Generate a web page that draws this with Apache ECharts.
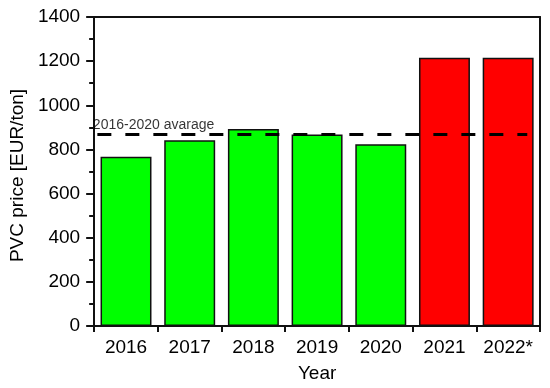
<!DOCTYPE html>
<html>
<head>
<meta charset="utf-8">
<script src="https://cdn.jsdelivr.net/npm/echarts@6/dist/echarts.min.js"></script>
<style>html,body{margin:0;padding:0;background:#fff}#c{width:550px;height:388px}</style>
</head>
<body>
<div id="c"></div>
<script>
const categories = ['2016', '2017', '2018', '2019', '2020', '2021', '2022*'];
const prices = [767, 842, 893, 868, 824, 1215, 1215];
const barColors = ['#00FF00', '#00FF00', '#00FF00', '#00FF00', '#00FF00', '#FF0000', '#FF0000'];
const averageValue = 868;
const averageSpan = [0.05, 6.8];
const averageLabel = '2016-2020 avarage';
const yTicks = { min: 0, max: 1400, interval: 200 };

const chart = echarts.init(document.getElementById('c'), null, { renderer: 'canvas' });
const font = 'Arial, "Liberation Sans", sans-serif';
chart.setOption({
  animation: false,
  backgroundColor: '#fff',
  grid: { left: 87, right: 10, top: 17, bottom: 61.5, containLabel: false },
  xAxis: [
    {
      type: 'category', data: categories, position: 'bottom',
      name: 'Year', nameLocation: 'middle', nameGap: 38,
      nameTextStyle: { fontFamily: font, fontSize: 19, color: '#000' },
      axisLine: { lineStyle: { color: '#111', width: 2 } },
      axisTick: { show: true, alignWithLabel: false, interval: 0, length: 6, inside: false, lineStyle: { color: '#111', width: 2 } },
      axisLabel: { fontFamily: font, fontSize: 19, color: '#000', margin: 12, interval: 0, hideOverlap: false },
      splitLine: { show: false }
    },
    {
      type: 'value', min: 0, max: 7, position: 'top',
      axisLine: { show: true, onZero: false, lineStyle: { color: '#111', width: 2 } },
      axisTick: { show: false }, axisLabel: { show: false }, splitLine: { show: false }
    }
  ],
  yAxis: [
    {
      type: 'value', min: yTicks.min, max: yTicks.max, interval: yTicks.interval,
      name: 'PVC price [EUR/ton]', nameLocation: 'middle', nameGap: 53,
      nameTextStyle: { fontFamily: font, fontSize: 19, color: '#000', padding: [0, 0, 0, -8] },
      axisLine: { show: true, lineStyle: { color: '#111', width: 2 } },
      axisTick: { show: true, length: 8, lineStyle: { color: '#111', width: 2 } },
      minorTick: { show: true, splitNumber: 2, length: 5, lineStyle: { color: '#111', width: 2 } },
      axisLabel: { fontFamily: font, fontSize: 19, color: '#000', margin: 14, formatter: v => String(v) },
      splitLine: { show: false }
    },
    {
      type: 'value', min: yTicks.min, max: yTicks.max, position: 'right',
      axisLine: { show: true, lineStyle: { color: '#111', width: 2 } },
      axisTick: { show: false }, axisLabel: { show: false }, splitLine: { show: false }
    }
  ],
  series: [
    {
      type: 'bar', xAxisIndex: 0, yAxisIndex: 0,
      barCategoryGap: '20%',
      data: prices.map((v, i) => ({ value: v, itemStyle: { color: barColors[i] } })),
      itemStyle: { borderColor: '#111', borderWidth: 1.5 }
    },
    {
      type: 'line', xAxisIndex: 1, yAxisIndex: 0, symbol: 'none', z: 5,
      lineStyle: { color: '#000', width: 3, type: [14, 14] },
      data: [[averageSpan[0], averageValue], [averageSpan[1], averageValue]]
    },
    {
      type: 'scatter', xAxisIndex: 1, yAxisIndex: 0, symbol: 'circle', symbolSize: 1, z: 6,
      itemStyle: { color: 'rgba(0,0,0,0)' },
      label: { show: true, position: 'right', distance: 0, offset: [-5, -9], formatter: averageLabel, fontFamily: font, fontSize: 14, color: '#000' },
      data: [[averageSpan[0], averageValue]]
    }
  ]
});
</script>
</body>
</html>
